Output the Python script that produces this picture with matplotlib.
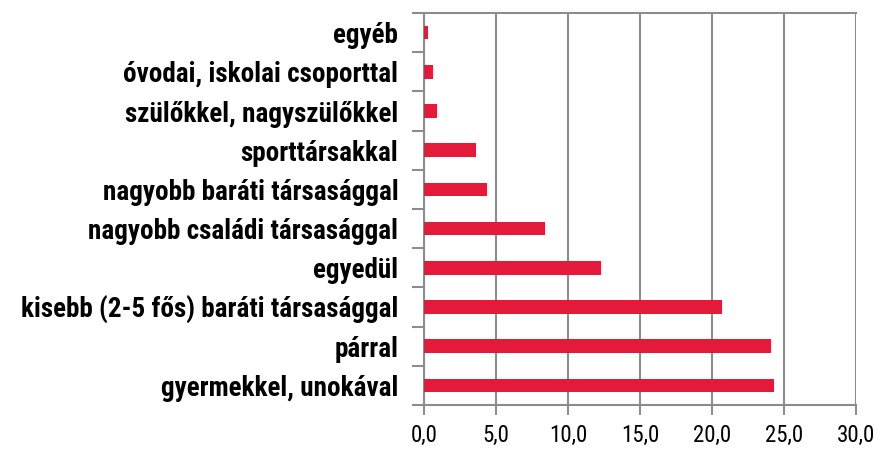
import matplotlib
matplotlib.use("Agg")
import matplotlib.pyplot as plt
from matplotlib import font_manager
import numpy as np

categories = [
    "gyermekkel, unokával",
    "párral",
    "kisebb (2-5 fős) baráti társasággal",
    "egyedül",
    "nagyobb családi társasággal",
    "nagyobb baráti társasággal",
    "sporttársakkal",
    "szülőkkel, nagyszülőkkel",
    "óvodai, iskolai csoporttal",
    "egyéb",
]
values = [24.3, 24.1, 20.7, 12.3, 8.4, 4.4, 3.6, 0.9, 0.6, 0.3]
xticks = [0, 5, 10, 15, 20, 25, 30]
xtick_labels = ["0,0", "5,0", "10,0", "15,0", "20,0", "25,0", "30,0"]

# narrow sans face for all text, with fallbacks
names = {f.name for f in font_manager.fontManager.ttflist}
family = next((n for n in ("Roboto Condensed", "PT Sans Narrow", "Liberation Sans")
               if n in names), "DejaVu Sans")

bar_color = "#E41A3A"
grid_color = "#8C8C8C"

fig = plt.figure(figsize=(8.81, 4.50), dpi=100)
ax = fig.add_axes([424 / 881, 1 - 405 / 450, (856 - 424) / 881, (405 - 13) / 450])

y = np.arange(len(categories))
ax.barh(y, values, height=0.35, color=bar_color, zorder=3)

ax.set_xlim(0, 30)
ax.set_ylim(-0.5, len(categories) - 0.5)

ax.set_xticks(xticks)
ax.set_xticklabels(xtick_labels, family=family, fontsize=16.5)
ax.set_yticks(y)
ax.set_yticklabels(categories, family=family, fontsize=19.5, fontweight="bold")
ax.set_yticks(np.arange(len(categories) + 1) - 0.5, minor=True)

ax.tick_params(axis="y", which="major", length=0, pad=18.5)
ax.tick_params(axis="y", which="minor", length=9, width=1.5, color=grid_color, direction="out")
ax.tick_params(axis="x", which="major", length=7, width=1.5, color=grid_color, direction="out", pad=7)

ax.grid(axis="x", color=grid_color, linewidth=1.5, zorder=0)
for side in ("left", "bottom", "top"):
    ax.spines[side].set_color(grid_color)
    ax.spines[side].set_linewidth(1.5)
ax.spines["right"].set_visible(False)

fig.savefig("out.png", dpi=100)
